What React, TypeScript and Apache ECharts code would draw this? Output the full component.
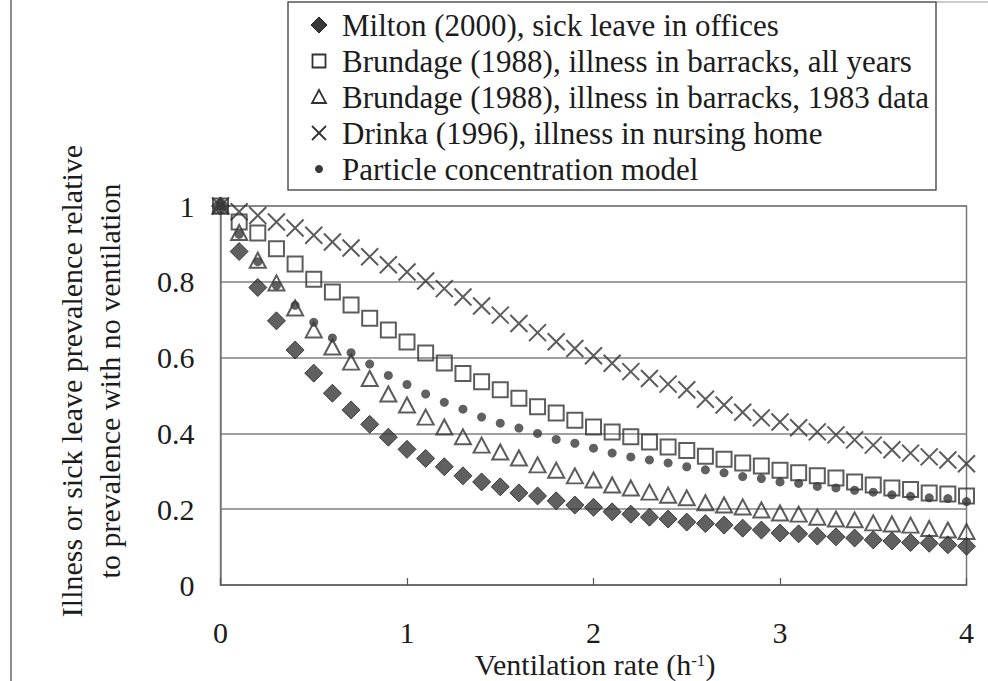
import React, { useEffect, useRef } from "react";
import * as echarts from "echarts";

const ventilationRate = [
  0, 0.1, 0.2, 0.3, 0.4, 0.5, 0.6, 0.7, 0.8, 0.9, 1.0, 1.1, 1.2, 1.3, 1.4, 1.5, 1.6, 1.7, 1.8, 1.9, 2.0,
  2.1, 2.2, 2.3, 2.4, 2.5, 2.6, 2.7, 2.8, 2.9, 3.0, 3.1, 3.2, 3.3, 3.4, 3.5, 3.6, 3.7, 3.8, 3.9, 4.0,
];

const miltonOffices = [
  1, 0.88, 0.785, 0.697, 0.62, 0.559, 0.506, 0.462, 0.424, 0.39, 0.358, 0.334, 0.312, 0.288, 0.272, 0.259,
  0.243, 0.235, 0.222, 0.211, 0.205, 0.193, 0.187, 0.179, 0.174, 0.166, 0.162, 0.158, 0.15, 0.145, 0.137,
  0.135, 0.129, 0.127, 0.124, 0.119, 0.116, 0.112, 0.11, 0.106, 0.102,
];

const brundageAllYears = [
  1, 0.958, 0.929, 0.887, 0.847, 0.807, 0.773, 0.739, 0.704, 0.673, 0.641, 0.612, 0.586, 0.558, 0.536, 0.515,
  0.493, 0.47, 0.454, 0.435, 0.417, 0.404, 0.391, 0.377, 0.364, 0.355, 0.34, 0.332, 0.322, 0.314, 0.303,
  0.296, 0.288, 0.282, 0.272, 0.264, 0.256, 0.252, 0.243, 0.24, 0.235,
];

const brundage1983 = [
  1, 0.93, 0.857, 0.797, 0.731, 0.673, 0.628, 0.588, 0.545, 0.504, 0.475, 0.443, 0.417, 0.391, 0.369, 0.351,
  0.335, 0.317, 0.303, 0.288, 0.277, 0.264, 0.256, 0.245, 0.237, 0.23, 0.217, 0.211, 0.206, 0.198, 0.19,
  0.187, 0.179, 0.174, 0.172, 0.164, 0.161, 0.158, 0.149, 0.145, 0.141,
];

const drinkaNursing = [
  1, 0.985, 0.975, 0.958, 0.942, 0.923, 0.905, 0.889, 0.866, 0.845, 0.826, 0.802, 0.782, 0.76, 0.736, 0.712,
  0.69, 0.666, 0.642, 0.624, 0.605, 0.585, 0.563, 0.545, 0.53, 0.515, 0.49, 0.475, 0.456, 0.441, 0.43,
  0.415, 0.404, 0.396, 0.383, 0.369, 0.357, 0.348, 0.338, 0.33, 0.32,
];

const particleModel = [
  1, 0.925, 0.853, 0.79, 0.738, 0.693, 0.652, 0.613, 0.583, 0.553, 0.529, 0.504, 0.482, 0.464, 0.443, 0.427,
  0.414, 0.4, 0.384, 0.374, 0.361, 0.348, 0.338, 0.33, 0.322, 0.312, 0.304, 0.296, 0.286, 0.281, 0.272,
  0.268, 0.26, 0.256, 0.25, 0.245, 0.238, 0.234, 0.23, 0.228, 0.22,
];

const seriesNames = [
  "Milton (2000), sick leave in offices",
  "Brundage (1988), illness in barracks, all years",
  "Brundage (1988), illness in barracks, 1983 data",
  "Drinka (1996), illness in nursing home",
  "Particle concentration model",
];

const xTitle = "Ventilation rate (h{sup|-1})";
const yTitle = "Illness or sick leave prevalence relative\nto prevalence with no ventilation";

const FAMILY = "'Liberation Serif', 'Times New Roman', Times, serif";
const font = (px: number) => `${px}px "Liberation Serif", "Times New Roman", Times, serif`;
const INK = "#1c1c1c";
const MARK = "#383838";

function pairs(ys: number[]) {
  return ventilationRate.map((x, i) => [x, ys[i]]);
}

export default function App() {
  const ref = useRef<HTMLDivElement>(null);

  useEffect(() => {
    if (!ref.current) return;
    const chart = echarts.init(ref.current, undefined, { renderer: "svg" });

    const legendX = 319;
    const textX = 342;
    const rowY = [25, 61, 97, 133, 169];

    const legendGraphics: any[] = [
      {
        type: "rect",
        shape: { x: 288, y: 2, width: 648, height: 188 },
        style: { fill: "none", stroke: "#555", lineWidth: 1.5 },
      },
      {
        type: "polygon",
        shape: {
          points: [
            [legendX, rowY[0] - 8],
            [legendX + 8, rowY[0]],
            [legendX, rowY[0] + 8],
            [legendX - 8, rowY[0]],
          ],
        },
        style: { fill: MARK, stroke: "#222", lineWidth: 1 },
      },
      {
        type: "rect",
        shape: { x: legendX - 6.5, y: rowY[1] - 6.5, width: 13, height: 13 },
        style: { fill: "none", stroke: "#333", lineWidth: 1.8 },
      },
      {
        type: "polygon",
        shape: {
          points: [
            [legendX, rowY[2] - 7],
            [legendX + 7, rowY[2] + 6],
            [legendX - 7, rowY[2] + 6],
          ],
        },
        style: { fill: "none", stroke: "#333", lineWidth: 1.8 },
      },
      {
        type: "line",
        shape: { x1: legendX - 7, y1: rowY[3] - 7, x2: legendX + 7, y2: rowY[3] + 7 },
        style: { stroke: "#333", lineWidth: 1.8 },
      },
      {
        type: "line",
        shape: { x1: legendX + 7, y1: rowY[3] - 7, x2: legendX - 7, y2: rowY[3] + 7 },
        style: { stroke: "#333", lineWidth: 1.8 },
      },
      {
        type: "circle",
        shape: { cx: legendX, cy: rowY[4], r: 4 },
        style: { fill: MARK },
      },
      ...seriesNames.map((name, i) => ({
        type: "text",
        x: textX,
        y: rowY[i],
        style: {
          text: name,
          font: font(31),
          fill: INK,
          textAlign: "left",
          verticalAlign: "middle",
        },
      })),
    ];

    const option: any = {
      animation: false,
      backgroundColor: "#ffffff",
      grid: {
        left: 220.5,
        right: 21.5,
        top: 206,
        bottom: 96,
        show: true,
        borderColor: "#777",
        borderWidth: 1.5,
        backgroundColor: "transparent",
      },
      xAxis: {
        type: "value",
        min: 0,
        max: 4,
        interval: 1,
        axisLine: { show: true, lineStyle: { color: "#666", width: 1.5 } },
        axisTick: { show: true, inside: true, length: 7, lineStyle: { color: "#555", width: 1.2 } },
        splitLine: { show: false },
        axisLabel: { fontFamily: FAMILY, fontSize: 30, lineHeight: 24, color: INK, margin: 35 },
      },
      yAxis: {
        type: "value",
        min: 0,
        max: 1,
        interval: 0.2,
        axisLine: { show: true, lineStyle: { color: "#777", width: 1.5 } },
        axisTick: { show: false },
        splitLine: { show: true, lineStyle: { color: "#808080", width: 1.5 } },
        axisLabel: { fontFamily: FAMILY, fontSize: 30, color: INK, margin: 26 },
      },
      graphic: [
        {
          type: "line",
          shape: { x1: 11, y1: 0, x2: 11, y2: 681 },
          style: { stroke: "#666", lineWidth: 1.5 },
        },
        {
          type: "line",
          shape: { x1: 936, y1: 2, x2: 988, y2: 2 },
          style: { stroke: "#999", lineWidth: 1 },
        },
        ...legendGraphics,
        {
          type: "text",
          x: 90,
          y: 381,
          rotation: Math.PI / 2,
          style: {
            text: yTitle,
            font: font(30),
            lineHeight: 38,
            fill: INK,
            textAlign: "center",
            verticalAlign: "middle",
          },
        },
        {
          type: "text",
          x: 595,
          y: 664,
          style: {
            text: xTitle,
            font: font(30),
            lineHeight: 24,
            fill: INK,
            textAlign: "center",
            verticalAlign: "middle",
            rich: {
              sup: { font: font(17), lineHeight: 14, verticalAlign: "top", fill: INK },
            },
          },
        },
      ],
      series: [
        {
          name: seriesNames[0],
          type: "scatter",
          data: pairs(miltonOffices),
          symbol: "diamond",
          symbolSize: [18, 18],
          itemStyle: { color: MARK, borderColor: "#222", borderWidth: 1 },
          silent: true,
        },
        {
          name: seriesNames[1],
          type: "scatter",
          data: pairs(brundageAllYears),
          symbol: "rect",
          symbolSize: 15,
          itemStyle: { color: "rgba(0,0,0,0)", borderColor: "#333", borderWidth: 2 },
          silent: true,
        },
        {
          name: seriesNames[2],
          type: "scatter",
          data: pairs(brundage1983),
          symbol: "triangle",
          symbolSize: [16, 15],
          itemStyle: { color: "rgba(0,0,0,0)", borderColor: "#333", borderWidth: 2 },
          silent: true,
        },
        {
          name: seriesNames[3],
          type: "scatter",
          data: pairs(drinkaNursing),
          symbol: "path://M0,0L10,10M10,0L0,10",
          symbolSize: 17,
          itemStyle: { color: "rgba(0,0,0,0)", borderColor: "#333", borderWidth: 2 },
          silent: true,
        },
        {
          name: seriesNames[4],
          type: "scatter",
          data: pairs(particleModel),
          symbol: "circle",
          symbolSize: 9,
          itemStyle: { color: MARK },
          silent: true,
        },
      ],
    };

    chart.setOption(option);
    return () => chart.dispose();
  }, []);

  return (
    <div
      ref={ref}
      style={{ position: "fixed", left: 0, top: 0, width: 988, height: 681, background: "#fff" }}
    />
  );
}
